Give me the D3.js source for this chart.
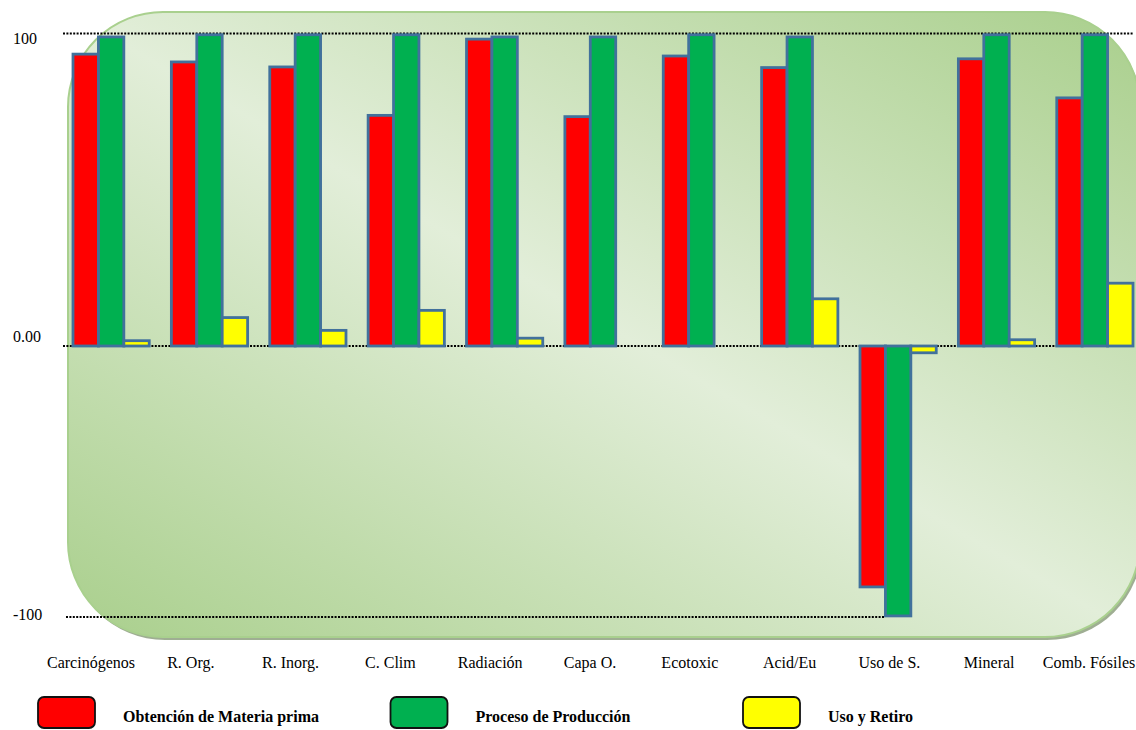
<!DOCTYPE html>
<html lang="es">
<head>
<meta charset="UTF-8">
<title>Impactos por etapa</title>
<script src="https://cdn.jsdelivr.net/npm/d3@7"></script>
<style>
  body { margin: 0; background: #fff; }
  svg text { font-family: "Liberation Serif", "Times New Roman", serif; fill: #000; }
</style>
</head>
<body>
<svg id="svg" width="1136" height="730"></svg>
<script>
// data
const categories = ["Carcinógenos", "R. Org.", "R. Inorg.", "C. Clim", "Radiación", "Capa O.",
  "Ecotoxic", "Acid/Eu", "Uso de S.", "Mineral", "Comb. Fósiles"]
const seriesKeys = ["materia", "produccion", "uso"]
const seriesNames = ["Obtención de Materia prima", "Proceso de Producción", "Uso y Retiro"]
const materia = [93.4, 90.9, 89.3, 73.8, 98.2, 73.4, 92.8, 89.1, -88.9, 91.9, 79.4]
const produccion = [98.9, 99.6, 99.6, 99.6, 98.9, 98.9, 99.6, 98.9, -99.6, 99.6, 99.6]
const uso = [1.7, 9.1, 5.0, 11.4, 2.5, 0, 0, 15.1, -2.5, 2.0, 20.1]
const tickValues = [100, 0, -100]
const tickLabels = ["100", "0.00", "-100"]

const values = { materia, produccion, uso }
const rows = []
categories.forEach((c, i) => {
  seriesKeys.forEach(k => rows.push({ cat: c, key: k, value: values[k][i] }))
})

const svg = d3.select("#svg")

// scales
const x0 = d3.scaleBand().domain(categories).range([73, 1133]).paddingInner(0.225).paddingOuter(0)
const x1 = d3.scaleBand().domain(seriesKeys).range([0, x0.bandwidth()])
const xLabel = d3.scalePoint().domain(categories).range([91, 1089])
// the plot is not symmetric around zero in the picture
const y = d3.scaleLinear().domain([-100, 0, 100]).range([617, 346, 33.5])
const color = d3.scaleOrdinal().domain(seriesKeys).range(["#ff0000", "#00b050", "#ffff00"])

// rounded green panel behind the plot
const defs = svg.append("defs")
const grad = defs.append("linearGradient").attr("id", "panelGrad")
  .attr("x1", 1).attr("y1", 0).attr("x2", 0).attr("y2", 1)
grad.append("stop").attr("offset", 0).attr("stop-color", "#a9cf8c")
grad.append("stop").attr("offset", 0.5).attr("stop-color", "#e2eed9")
grad.append("stop").attr("offset", 1).attr("stop-color", "#a9cf8c")

svg.append("rect")
  .attr("x", 70).attr("y", 15).attr("width", 1072).attr("height", 625)
  .attr("rx", 95).attr("fill", "#9fae93")
svg.append("rect")
  .attr("x", 68).attr("y", 12).attr("width", 1072).attr("height", 625)
  .attr("rx", 95).attr("fill", "url(#panelGrad)")
  .attr("stroke", "#a9d08e").attr("stroke-width", 2)

// dotted gridlines
const gridEnd = {
  100: 1133,
  0: 1133,
  "-100": x0("Uso de S.") + x1("produccion")
}
svg.append("g").selectAll("line")
  .data(tickValues)
  .join("line")
  .attr("x1", d => d === -100 ? 66 : 63)
  .attr("x2", d => gridEnd[d])
  .attr("y1", d => y(d)).attr("y2", d => y(d))
  .attr("stroke", "#000").attr("stroke-width", 2)
  .attr("stroke-dasharray", "2,1.4")

// y tick labels
const tickNudge = { 100: 10, 0: -4, "-100": 3 }
svg.append("g").selectAll("text")
  .data(tickValues)
  .join("text")
  .attr("x", 13)
  .attr("y", d => y(d) + tickNudge[d])
  .attr("font-size", 16)
  .text((d, i) => tickLabels[i])

// bars
svg.append("g").selectAll("rect")
  .data(rows.filter(d => d.value !== 0))
  .join("rect")
  .attr("x", d => x0(d.cat) + x1(d.key))
  .attr("y", d => y(Math.max(0, d.value)))
  .attr("width", x1.bandwidth())
  .attr("height", d => Math.abs(y(d.value) - y(0)))
  .attr("fill", d => color(d.key))
  .attr("stroke", "#41719c").attr("stroke-width", 2.8)

// category labels
svg.append("g").selectAll("text")
  .data(categories)
  .join("text")
  .attr("x", d => xLabel(d))
  .attr("y", 668)
  .attr("text-anchor", "middle")
  .attr("font-size", 16)
  .text(d => d)

// legend
const legendX = d3.scalePoint().domain(seriesKeys).range([38, 743])
const legend = svg.append("g").selectAll("g")
  .data(seriesKeys)
  .join("g")
  .attr("transform", d => `translate(${legendX(d)},0)`)
legend.append("rect")
  .attr("x", 0).attr("y", 697).attr("width", 57).attr("height", 31)
  .attr("rx", 6)
  .attr("fill", d => color(d))
  .attr("stroke", "#111").attr("stroke-width", 1.8)
legend.append("text")
  .attr("x", 85).attr("y", 722)
  .attr("font-size", 16).attr("font-weight", "bold")
  .text((d, i) => seriesNames[i])
</script>
</body>
</html>
